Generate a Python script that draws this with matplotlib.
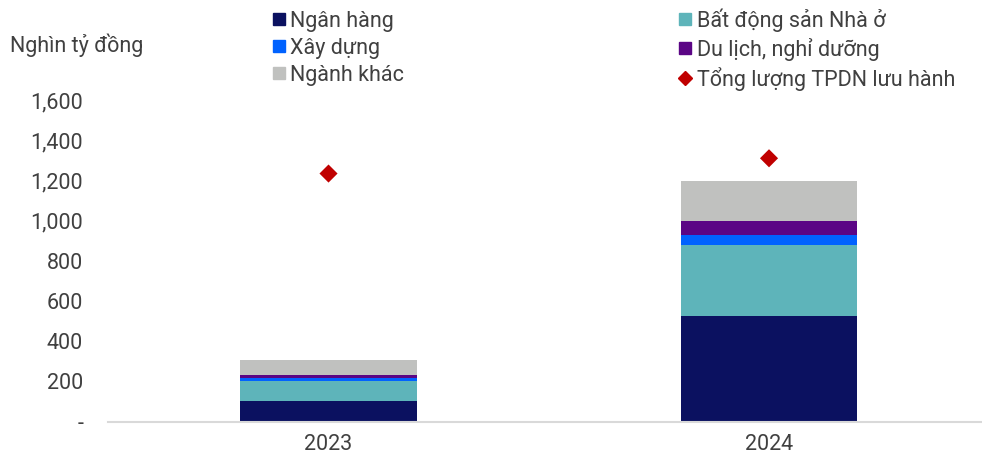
import matplotlib
matplotlib.use("Agg")
import matplotlib.pyplot as plt
from matplotlib.lines import Line2D
from matplotlib.ticker import FuncFormatter

plt.rcParams['font.family'] = ['Roboto', 'DejaVu Sans']

years = ["2023", "2024"]
series_names = ["Ngân hàng", "Bất động sản Nhà ở", "Xây dựng",
                "Du lịch, nghỉ dưỡng", "Ngành khác"]
ngan_hang = [103, 523]
bat_dong_san = [98, 357]
xay_dung = [15, 46]
du_lich = [13, 73]
nganh_khac = [75, 196]
tong_luong = [1234, 1310]
total_name = "Tổng lượng TPDN lưu hành"
y_ticks = [0, 200, 400, 600, 800, 1000, 1200, 1400, 1600]
unit_label = "Nghìn tỷ đồng"

colors = ["#0B1160", "#5EB4BA", "#0062FF", "#5B0585", "#C0C1BF"]
red = "#C00000"
text_color = "#404040"
fs = 15.5

fig = plt.figure(figsize=(9.82, 4.61), dpi=100)
ax = fig.add_axes([108/982, 39.5/461, 1 - 108/982, 321.5/461])

x = list(range(len(years)))
stack = [ngan_hang, bat_dong_san, xay_dung, du_lich, nganh_khac]
bottom = [0] * len(years)
for vals, col, name in zip(stack, colors, series_names):
    ax.bar(x, vals, width=0.4, bottom=bottom, color=col, label=name,
           edgecolor='none')
    bottom = [b + v for b, v in zip(bottom, vals)]

ax.scatter(x, tong_luong, marker='D', s=85, color=red, zorder=3,
           edgecolors='none')

ax.set_xlim(-0.5006, 1.4835)
ax.set_ylim(0, 1600)
ax.set_yticks(y_ticks)
ax.yaxis.set_major_formatter(FuncFormatter(
    lambda v, p: "-" if v == 0 else f"{int(v):,}"))
ax.set_xticks(x)
ax.set_xticklabels(years)
ax.tick_params(axis='both', length=0, labelsize=fs, colors=text_color)
ax.tick_params(axis='y', pad=18)
ax.tick_params(axis='x', pad=9)
for s in ["top", "right", "left"]:
    ax.spines[s].set_visible(False)
ax.spines["bottom"].set_color("#D9D9D9")
ax.spines["bottom"].set_linewidth(1.5)

fig.text(10/982, 1 - 45/461, unit_label, fontsize=fs, color=text_color,
         va='center', ha='left')

handles = [
    Line2D([], [], marker='s', ls='none', color=colors[0], markersize=8.5),
    Line2D([], [], marker='s', ls='none', color=colors[2], markersize=8.5),
    Line2D([], [], marker='s', ls='none', color=colors[4], markersize=8.5),
    Line2D([], [], marker='s', ls='none', color=colors[1], markersize=8.5),
    Line2D([], [], marker='s', ls='none', color=colors[3], markersize=8.5),
    Line2D([], [], marker='D', ls='none', color=red, markersize=7.5),
]
labels = [series_names[0], series_names[2], series_names[4],
          series_names[1], series_names[3], total_name]
leg = fig.legend(handles, labels, ncol=2, loc='upper left',
                 bbox_to_anchor=(256/982, 1 + 7/461), frameon=False,
                 fontsize=fs, handlelength=0.7, handletextpad=0.2,
                 columnspacing=12.7, labelspacing=0.28, borderpad=0.2)
for t in leg.get_texts():
    t.set_color(text_color)

fig.savefig("out.png", dpi=100)
